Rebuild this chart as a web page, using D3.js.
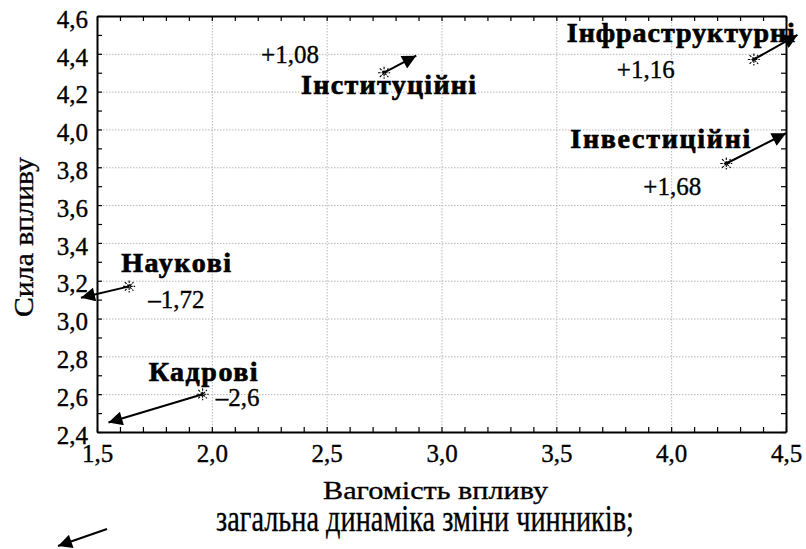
<!DOCTYPE html>
<html>
<head>
<meta charset="utf-8">
<script src="https://cdn.jsdelivr.net/npm/d3@7.9.0/dist/d3.min.js"></script>
<style>
  body { margin: 0; background: #fff; }
  svg { display: block; }
  svg text { stroke: #000; stroke-width: 0.35px; }
  .grid line { stroke: #b8b8b8; stroke-dasharray: 1.5 1.5; stroke-width: 1; }
  .grid path { display: none; }
</style>
</head>
<body>
<div id="chart"></div>
<script>
// factors and their position: x = weight of influence, y = strength of influence
const factors = ['Інституційні', 'Інфраструктурні', 'Інвестиційні', 'Наукові', 'Кадрові'];
const weight = [2.75, 4.36, 4.24, 1.64, 1.96];
const strength = [4.30, 4.37, 3.82, 3.17, 2.60];
const change = ['+1,08', '+1,16', '+1,68', '–1,72', '–2,6'];
// where each dynamics arrow points to (data units)
const arrowToX = [2.89, 4.55, 4.50, 1.43, 1.55];
const arrowToY = [4.39, 4.50, 3.98, 3.11, 2.45];

const xTicks = [1.5, 2.0, 2.5, 3.0, 3.5, 4.0, 4.5];
const yTicks = [2.4, 2.6, 2.8, 3.0, 3.2, 3.4, 3.6, 3.8, 4.0, 4.2, 4.4, 4.6];

// label placement relative to the point (px) and label widths
const nameOffset = [[-83, 21], [-187, -17], [-156, -15], [-8, -14], [-54, -13]];
const nameWidth = [175, 228, 180, 110, 109];
const valueOffset = [[-123, -10], [-137, 19], [-83, 32], [19, 22], [13, 12]];

const width = 806;
const height = 549;
const margin = { top: 16, right: 20, bottom: 117, left: 97 };
const fmt = (d) => d.toFixed(1).replace('.', ',');
const serif = '"Times New Roman"';

const svg = d3.select('#chart').append('svg')
  .attr('width', width)
  .attr('height', height);

const x = d3.scaleLinear().domain([1.5, 4.5]).range([margin.left, width - margin.right]);
const y = d3.scaleLinear().domain([2.4, 4.6]).range([height - margin.bottom, margin.top]);
const plotW = width - margin.left - margin.right;
const plotH = height - margin.top - margin.bottom;

// arrow head
svg.append('defs').append('marker')
  .attr('id', 'head')
  .attr('viewBox', '0 0 10 10')
  .attr('refX', 10).attr('refY', 5)
  .attr('markerWidth', 17).attr('markerHeight', 14)
  .attr('markerUnits', 'userSpaceOnUse')
  .attr('orient', 'auto')
  .append('path').attr('d', 'M0,0 L10,5 L0,10 Z').attr('fill', '#000');

// gridlines
svg.append('g').attr('class', 'grid')
  .attr('transform', `translate(0,${margin.top})`)
  .call(d3.axisBottom(x).tickValues(xTicks.slice(1, -1)).tickFormat('').tickSize(plotH));
svg.append('g').attr('class', 'grid')
  .attr('transform', `translate(${margin.left},0)`)
  .call(d3.axisRight(y).tickValues(yTicks.slice(1, -1)).tickFormat('').tickSize(plotW));

// inward minor ticks on all four sides
const minorX = d3.range(15, 46).map((d) => d / 10);
const minorY = d3.range(24, 47).map((d) => d / 10);
const tickAxes = [
  [d3.axisTop(x).tickValues(minorX), `translate(0,${y(2.4)})`],
  [d3.axisBottom(x).tickValues(minorX), `translate(0,${y(4.6)})`],
  [d3.axisRight(y).tickValues(minorY), `translate(${x(1.5)},0)`],
  [d3.axisLeft(y).tickValues(minorY), `translate(${x(4.5)},0)`],
];
tickAxes.forEach(([ax, tr]) => {
  const g = svg.append('g').attr('transform', tr)
    .call(ax.tickFormat('').tickSize(5).tickSizeOuter(0));
  g.selectAll('line').attr('stroke', '#000').attr('stroke-width', 1.2);
  g.select('.domain').attr('stroke', '#000').attr('stroke-width', 2);
});

// tick labels
const xAxis = svg.append('g')
  .attr('transform', `translate(0,${y(2.4)})`)
  .call(d3.axisBottom(x).tickValues(xTicks).tickFormat(fmt).tickSize(0).tickPadding(12));
xAxis.select('.domain').remove();
xAxis.selectAll('text').style('font-family', serif).attr('font-size', 25).attr('fill', '#000');

const yAxis = svg.append('g')
  .attr('transform', `translate(${x(1.5)},0)`)
  .call(d3.axisLeft(y).tickValues(yTicks).tickFormat(fmt).tickSize(0).tickPadding(9));
yAxis.select('.domain').remove();
yAxis.selectAll('text').style('font-family', serif).attr('font-size', 25).attr('fill', '#000')
  .attr('dy', '0.45em');

// axis titles
svg.append('text')
  .attr('x', 323).attr('y', 499)
  .style('font-family', serif)
  .attr('font-size', 26)
  .attr('textLength', 225)
  .attr('lengthAdjust', 'spacingAndGlyphs')
  .text('Вагомість впливу');

svg.append('text')
  .attr('transform', 'translate(33,317) rotate(-90)')
  .style('font-family', serif)
  .attr('font-size', 27)
  .attr('textLength', 160)
  .attr('lengthAdjust', 'spacingAndGlyphs')
  .text('Сила впливу');

// dynamics arrows
const idx = d3.range(factors.length);
svg.append('g').selectAll('line')
  .data(idx)
  .join('line')
  .attr('x1', (i) => x(weight[i]))
  .attr('y1', (i) => y(strength[i]))
  .attr('x2', (i) => x(arrowToX[i]))
  .attr('y2', (i) => y(arrowToY[i]))
  .attr('stroke', '#000')
  .attr('stroke-width', 2)
  .attr('marker-end', 'url(#head)');

// asterisk point markers
const star = 'M-6,0H6M0,-6V6M-4.3,-4.3L4.3,4.3M-4.3,4.3L4.3,-4.3';
svg.append('g').selectAll('path')
  .data(idx)
  .join('path')
  .attr('transform', (i) => `translate(${x(weight[i])},${y(strength[i])})`)
  .attr('d', star)
  .attr('stroke', '#000')
  .attr('stroke-width', 1.1)
  .attr('stroke-dasharray', '2.5 1')
  .attr('fill', 'none');

// factor names
svg.append('g').selectAll('text')
  .data(idx)
  .join('text')
  .attr('x', (i) => x(weight[i]) + nameOffset[i][0])
  .attr('y', (i) => y(strength[i]) + nameOffset[i][1])
  .style('font-family', serif)
  .style('stroke-width', '0.7px')
  .attr('font-size', 28)
  .attr('font-weight', 'bold')
  .attr('textLength', (i) => nameWidth[i])
  .attr('lengthAdjust', 'spacing')
  .text((i) => factors[i]);

// change values
svg.append('g').selectAll('text')
  .data(idx)
  .join('text')
  .attr('x', (i) => x(weight[i]) + valueOffset[i][0])
  .attr('y', (i) => y(strength[i]) + valueOffset[i][1])
  .style('font-family', serif)
  .attr('font-size', 25)
  .text((i) => change[i]);

// legend
svg.append('line')
  .attr('x1', 107).attr('y1', 529)
  .attr('x2', 58).attr('y2', 546)
  .attr('stroke', '#000')
  .attr('stroke-width', 2)
  .attr('marker-end', 'url(#head)');

svg.append('text')
  .attr('x', 216).attr('y', 531)
  .style('font-family', serif)
  .attr('font-size', 38)
  .attr('textLength', 418)
  .attr('lengthAdjust', 'spacingAndGlyphs')
  .text('загальна динаміка зміни чинників;');
</script>
</body>
</html>
